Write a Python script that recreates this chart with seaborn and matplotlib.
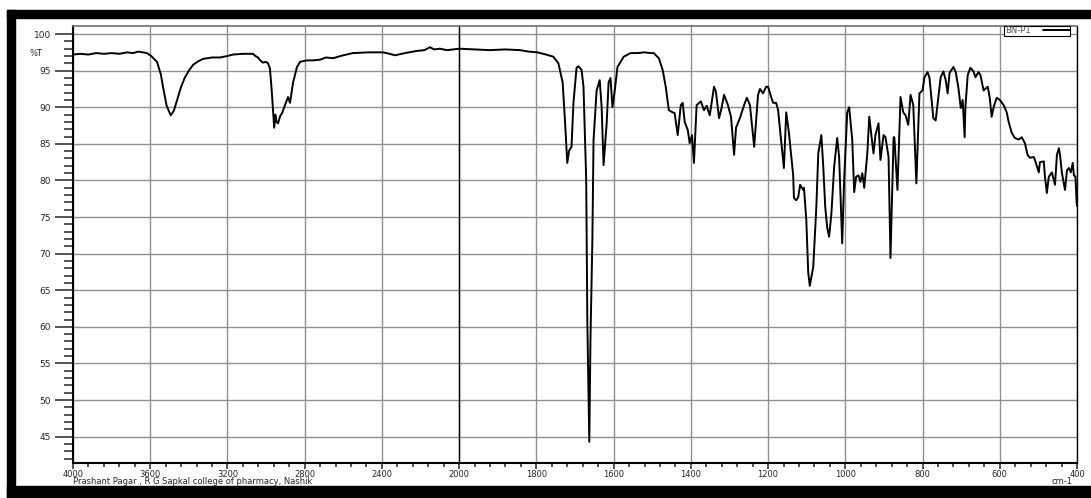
import numpy as np
import seaborn as sns
import matplotlib.pyplot as plt
from matplotlib.patches import Rectangle
from matplotlib.ticker import FixedLocator

sns.set_style("white")
plt.rcParams['font.family'] = ['DejaVu Sans']

# IR spectrum of BN-P1, wavenumber (cm-1) vs %T
wavenumber = [
    4000, 3960, 3920, 3880, 3840, 3800, 3760, 3720, 3690, 3660, 3640, 3617, 3595, 3565,
    3545, 3534, 3515, 3494, 3478, 3461, 3440, 3420, 3400, 3378, 3350, 3327, 3280, 3239,
    3200, 3171, 3120, 3068, 3055, 3042, 3030, 3016, 3000, 2990, 2980, 2970, 2964, 2958,
    2952, 2946, 2938, 2927, 2917, 2902, 2886, 2876, 2860, 2840, 2824, 2790, 2757, 2720,
    2690, 2653, 2600, 2550, 2470, 2394, 2360, 2332, 2280, 2218, 2180, 2151, 2130, 2100,
    2063, 2030, 2000,
    1960, 1920, 1880, 1842, 1820, 1797, 1775, 1756, 1743, 1732, 1726, 1720, 1715, 1709,
    1704, 1696, 1691, 1683, 1678, 1671, 1668, 1663, 1660, 1655, 1652, 1644, 1636, 1631,
    1626, 1618, 1613, 1608, 1603, 1597, 1590, 1574, 1556, 1538, 1520, 1504, 1496, 1483,
    1473, 1465, 1457, 1447, 1442, 1434, 1426, 1421, 1416, 1408, 1403, 1397, 1392, 1385,
    1374, 1366, 1359, 1351, 1340, 1335, 1327, 1320, 1314, 1304, 1296, 1288, 1283, 1273,
    1262, 1255, 1247, 1236, 1226, 1221, 1213, 1205, 1200, 1192, 1187, 1179, 1174, 1169,
    1159, 1153, 1146, 1135, 1133, 1127, 1122, 1117, 1109, 1107, 1101, 1096, 1092, 1083,
    1075, 1070, 1062, 1057, 1052, 1047, 1042, 1036, 1029, 1021, 1016, 1008, 1003, 995,
    990, 982, 977, 972, 966, 961, 956, 951, 943, 938, 927, 922, 914, 909,
    901, 896, 888, 883, 875, 873, 865, 863, 857, 850, 844, 837, 831, 824,
    816, 808, 800, 795, 787, 782, 772, 766, 759, 753, 746, 740, 735, 730,
    720, 714, 707, 701, 696, 691, 689, 683, 676, 668, 663, 655, 650, 642,
    631, 626, 621, 616, 608, 600, 590, 582, 577, 569, 561, 551, 543, 535,
    528, 522, 512, 507, 499, 496, 486, 483, 478, 473, 465, 457, 452, 447,
    444, 439, 431, 426, 421, 416, 411, 408, 404, 401, 400,
]
transmittance = [
    97.2, 97.3, 97.2, 97.4, 97.3, 97.4, 97.3, 97.5, 97.4, 97.6, 97.5, 97.4, 97.0, 96.2,
    94.5, 92.8, 90.2, 88.9, 89.5, 91.0, 92.8, 94.1, 95.0, 95.8, 96.3, 96.6, 96.8, 96.8,
    97.0, 97.2, 97.3, 97.3, 97.0, 96.8, 96.4, 96.1, 96.2, 96.0, 95.3, 92.0, 89.6, 87.2,
    89.0, 88.0, 87.8, 88.8, 89.2, 90.3, 91.4, 90.6, 93.4, 95.5, 96.2, 96.4, 96.4, 96.5,
    96.8, 96.7, 97.1, 97.4, 97.5, 97.5, 97.3, 97.1, 97.4, 97.7, 97.8, 98.2, 97.9, 98.0,
    97.8, 97.9, 98.0,
    97.9, 97.8, 97.9, 97.8, 97.6, 97.5, 97.2, 96.9, 96.0, 93.4, 88.2, 82.4, 84.1, 84.6,
    90.6, 95.4, 95.6, 95.1, 92.8, 80.1, 60.5, 44.3, 58.2, 71.9, 85.5, 92.3, 93.7, 90.0,
    82.1, 87.8, 93.4, 94.0, 90.0, 92.3, 95.5, 96.9, 97.4, 97.4, 97.5, 97.4, 97.4, 96.7,
    95.1, 92.8, 89.6, 89.3, 89.2, 86.2, 90.3, 90.6, 88.0, 86.9, 85.1, 86.2, 82.4, 90.3,
    90.8, 89.6, 90.2, 88.9, 92.8, 92.1, 88.5, 90.0, 91.7, 90.3, 88.7, 83.5, 87.2, 88.5,
    90.3, 91.3, 90.3, 84.6, 91.7, 92.5, 91.9, 92.8, 92.8, 91.4, 90.6, 90.6, 89.6, 86.9,
    81.7, 89.3, 86.5, 80.7, 77.6, 77.3, 77.7, 79.4, 78.7, 79.0, 74.6, 67.4, 65.6, 68.2,
    76.4, 83.7, 86.2, 81.8, 76.4, 73.6, 72.3, 75.5, 81.8, 85.8, 83.2, 71.4, 80.1, 89.3,
    90.0, 85.5, 78.4, 80.5, 80.7, 79.8, 81.0, 79.0, 83.7, 88.7, 83.7, 86.2, 87.8, 82.8,
    86.2, 85.9, 83.2, 69.4, 85.9, 85.9, 78.7, 81.8, 91.4, 89.3, 88.9, 87.6, 91.7, 90.3,
    79.6, 91.9, 92.3, 94.1, 94.8, 94.0, 88.5, 88.2, 91.4, 94.1, 94.9, 93.7, 91.9, 94.7,
    95.5, 94.8, 92.6, 89.9, 91.0, 85.9, 90.0, 94.4, 95.4, 94.9, 94.1, 94.8, 94.4, 92.3,
    92.8, 91.3, 88.7, 90.0, 91.3, 91.0, 90.3, 89.3, 88.0, 86.5, 85.8, 85.6, 85.9, 85.1,
    83.5, 83.1, 83.2, 82.5, 81.1, 82.5, 82.6, 80.5, 78.3, 80.5, 81.1, 79.4, 83.5, 84.4,
    83.5, 81.0, 78.7, 81.4, 81.7, 81.1, 82.4, 80.7, 80.5, 77.0, 76.5,
]
x_major = [4000, 3600, 3200, 2800, 2400, 2000, 1800, 1600, 1400, 1200, 1000, 800, 600, 400]
y_major = [45, 50, 55, 60, 65, 70, 75, 80, 85, 90, 95, 100]
sample_name = "BN-P1"
footer = "Prashant Pagar , R G Sapkal college of pharmacy, Nashik"


# spectrometer x axis: 4000-2000 is drawn at half the scale of 2000-400
def fwd(w):
    w = np.asarray(w, dtype=float)
    return np.where(w >= 2000, (w - 4000) / 2.0, w - 3000)


def inv(d):
    d = np.asarray(d, dtype=float)
    return np.where(d >= -1000, 4000 + 2.0 * d, d + 3000)


W, H = 1091, 498
fig = plt.figure(figsize=(W / 100, H / 100), dpi=100)
ax = fig.add_axes([73 / W, 35 / H, 1004 / W, 437 / H])

sns.lineplot(x=wavenumber, y=transmittance, ax=ax, color='black', linewidth=1.4,
             sort=False, estimator=None, label=sample_name)

ax.set_xscale('function', functions=(fwd, inv))
ax.set_xlim(4000, 400)
ax.set_ylim(41.4, 101.1)

ax.xaxis.set_major_locator(FixedLocator(x_major))
ax.xaxis.set_minor_locator(FixedLocator(list(np.arange(4000, 2000, -80)) + list(np.arange(2000, 399, -40))))
ax.set_xticklabels([str(v) for v in x_major])
ax.yaxis.set_major_locator(FixedLocator(y_major))
ax.yaxis.set_minor_locator(FixedLocator(np.arange(42, 101)))

ax.tick_params(axis='y', which='major', direction='out', length=13, width=1.1, pad=3, labelsize=6.5, left=True)
ax.tick_params(axis='y', which='minor', direction='out', length=6.5, width=1.1, left=True)
ax.tick_params(axis='x', which='major', direction='out', length=4.5, width=1.1, pad=0.5, labelsize=6, bottom=True)
ax.tick_params(axis='x', which='minor', direction='out', length=3, width=1.1, bottom=True)

ax.set_axisbelow(True)
ax.grid(True, which='major', color='#909090', linewidth=1.0)
ax.axvline(2000, color='black', linewidth=1.0, zorder=1.5)

for side in ['left', 'bottom']:
    ax.spines[side].set_color('black')
    ax.spines[side].set_linewidth(1.5)
ax.spines['right'].set_color('black')
ax.spines['right'].set_linewidth(1.0)
ax.spines['top'].set_color('#707070')
ax.spines['top'].set_linewidth(1.2)
ax.set_xlabel('')
ax.set_ylabel('')

leg = ax.legend(loc='upper right', bbox_to_anchor=(0.993, 1.0), fontsize=6, frameon=True,
                fancybox=False, edgecolor='black', framealpha=1, borderpad=0.05,
                handlelength=3.2, handletextpad=1.5, borderaxespad=0, labelcolor='#555555',
                markerfirst=False)
leg.get_frame().set_linewidth(0.8)

# thick black frame round the print-out
fig.add_artist(Rectangle((7 / W, 0), 8 / W, 488 / H, transform=fig.transFigure, color='black', zorder=0))
fig.add_artist(Rectangle((7 / W, 480 / H), 1084 / W, 8 / H, transform=fig.transFigure, color='black', zorder=0))
fig.add_artist(Rectangle((7 / W, 0), 1084 / W, 12 / H, transform=fig.transFigure, color='black', zorder=0))

fig.text(30 / W, 1 - 53 / H, '%T', fontsize=6, va='center', ha='left')
fig.text(73 / W, 1 - 484 / H, footer, fontsize=6, va='baseline', ha='left', zorder=5)
fig.text(1062 / W, 1 - 484 / H, 'cm-1', fontsize=6, va='baseline', ha='center', zorder=5)

fig.savefig('out.png', dpi=100)
